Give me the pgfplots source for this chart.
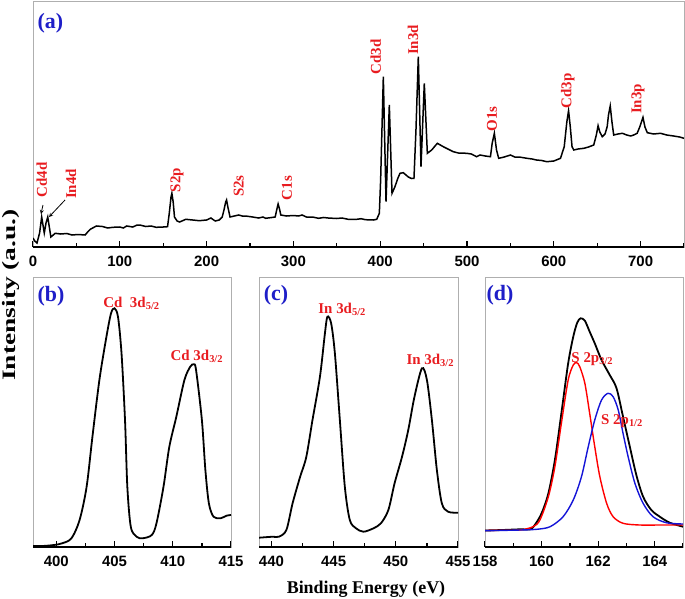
\documentclass[border=0pt]{standalone}
\usepackage{pgfplots}
\pgfplotsset{compat=1.18}
\usepackage{graphicx}
\usepackage{fontspec}
\setmainfont{Liberation Serif}
\setsansfont{Liberation Sans}
\definecolor{lblred}{RGB}{232,28,32}
\definecolor{lblblue}{RGB}{30,30,200}
\definecolor{frame}{RGB}{175,175,175}
\definecolor{fitblue}{RGB}{20,20,215}

\pgfplotsset{
  xps/.style={
    scale only axis, anchor=south west,
    axis line style={draw=frame, line width=0.8bp},
    ytick=\empty, xtick pos=left, tick align=inside,
    major tick length=6bp, minor tick length=4bp,
    every tick/.style={black, line width=1.3bp},
    ticklabel style={font=\sffamily\bfseries\fontsize{15}{15}\selectfont},
    xticklabel style={yshift=-6bp},
    /pgf/number format/assume math mode=true,
    /pgf/number format/1000 sep={},
    ymin=0,
  },
}
\tikzset{
  pk/.style={font=\bfseries\fontsize{15}{15}\selectfont, text=lblred, rotate=90},
  sub/.style={font=\bfseries\fontsize{15}{16}\selectfont, text=lblred, anchor=base west, inner sep=0pt},
  pan/.style={font=\bfseries\fontsize{22}{22}\selectfont, text=lblblue},
}

\begin{document}
\begin{tikzpicture}[x=1bp,y=1bp]
\useasboundingbox (0,0) rectangle (685,-599);

% (a) survey spectrum
\begin{axis}[xps, at={(33bp,-247bp)}, width=651bp, height=246bp,
  xmin=0, xmax=750, ymax=246,
  xtick={0,100,...,700}, minor xtick={50,150,...,750}]
\addplot[black, line width=1.5bp] coordinates {
(0,9) (2,6) (4.6,4) (7.6,14) (10,30) (11.5,22) (13,14) (15,24) (17,30) (18.8,20)
(20.6,10) (25.6,13.7) (32,13) (39,13.5) (45,12) (52,12.5) (60,12) (63,15) (66,17.7)
(73,21) (80,20.5) (86,19) (92,19.7) (100,20) (104,19) (108,21) (115,20) (120,22) (123,22)
(130,20.5) (136,21) (142,19.7) (150,20) (155,20.3) (157,33.7) (159,50) (160,53.7) (161.5,45)
(163,30) (166,26) (169,25) (176,27.7) (184,27) (191.6,26.3) (200,27) (205,29) (207,27.7)
(210,26) (214.5,27) (218,30) (220,37) (222,45) (223,47) (224.5,40) (227,30) (232,31)
(237,32) (241,31) (245,31) (253,30) (260,29) (265,30) (268,28.7) (275,29.5) (279,30)
(281,38) (282.4,43) (284,38) (285.5,32) (292,31) (300,31.5) (306,31) (310,32) (315,30)
(322,30) (329,28.7) (335,29.5) (340,29) (350,28.5) (356,29) (363,27.7) (373,27.7) (378,28.3)
(383,27.3) (392,27) (396,27.7) (399,33.7) (400.5,67) (403.6,170.3) (406.7,45.3) (410.5,142)
(413.6,53.7) (417,60.3) (420,68) (422.8,73.7) (426.6,74.3) (432.4,70) (436,68.5) (438.9,68.7)
(441.2,117) (443.9,190.3) (447,80.3) (450.8,163.7) (454.3,93.7) (459.3,97) (465.8,103.7)
(472.7,100.3) (478,98) (484.2,95.3) (490,94) (499.6,93.7) (505,93) (511,90.3) (515,92)
(521,91) (527,90.3) (529,103.7) (531.5,113.7) (534,97) (536.5,88.7) (543,90) (550,92)
(555,90) (560,90) (569,88.7) (575,88) (580,87) (586,86.5) (592,85.3) (600,86) (607.7,88.7)
(612,100.3) (615,125) (617,136.3) (619,120) (621,100.3) (623,97) (628,98) (634.6,98.7)
(640,100) (646,102) (649,112) (651,121.3) (653,115) (655.8,110.3) (659,113) (661.5,120.3)
(663,132) (665,141) (667,125) (669,112) (674,113) (679,113.7) (684,112) (688.5,111) (692,112)
(696,113.7) (699,120) (702.7,129.7) (705,120) (707.7,114.3) (715,113) (723,113.7) (730,112)
(738,111) (745,110) (750,108.7)};
\draw[black, line width=2bp] (rel axis cs:0,0) -- (rel axis cs:1,0);
\node[pan] at (axis cs:20,224) {(a)};
\node[pk] at (axis cs:10.2,67) {Cd4d};
\node[pk] at (axis cs:43.8,63) {In4d};
\node[pk] at (axis cs:166,67) {S2p};
\node[pk] at (axis cs:237,61) {S2s};
\node[pk] at (axis cs:292.6,59) {C1s};
\node[pk] at (axis cs:395,190) {Cd3d};
\node[pk] at (axis cs:437.8,207) {In3d};
\node[pk] at (axis cs:528.8,128) {O1s};
\node[pk] at (axis cs:616,156) {Cd3p};
\node[pk] at (axis cs:697,148) {In3p};
\draw[-stealth, black, line width=0.8bp] (axis cs:11.5,42) -- (axis cs:9.2,33);
\draw[-stealth, black, line width=0.8bp] (axis cs:36.9,47) -- (axis cs:18.4,30);
\end{axis}

% (b) Cd 3d
\begin{axis}[xps, at={(33bp,-547bp)}, width=198bp, height=270bp,
  xmin=398, xmax=415, ymax=270,
  xtick={400,405,410,415}, minor xtick={402.5,407.5,412.5}]
\addplot[black, line width=1.8bp, smooth] coordinates {
(398,1) (398.8,1) (399.8,2) (400.5,3.7) (401.3,8.7) (402,27) (402.6,60) (403.1,110)
(403.7,167) (404.3,210) (404.7,233.7) (405,238.7) (405.3,230) (405.6,193.7) (405.9,127)
(406.1,60) (406.4,20) (406.9,10.3) (407.4,8.7) (408.2,12) (408.6,23.7) (409.2,60)
(409.7,100) (410.3,130) (411,167) (411.5,180.3) (411.8,182.7) (412,177) (412.5,127)
(412.8,77) (413.1,43.7) (413.5,30.3) (414.1,28.7) (414.6,31.3) (415,32)};
\draw[black, line width=2bp] (rel axis cs:0,0) -- (rel axis cs:1,0);
\node[pan] at (axis cs:399.55,251) {(b)};
\node[sub] at (axis cs:404.03,240) {Cd\ \ 3d\textsubscript{5/2}};
\node[sub] at (axis cs:409.8,187) {Cd 3d\textsubscript{3/2}};
\end{axis}

% (c) In 3d
\begin{axis}[xps, at={(259bp,-547bp)}, width=199bp, height=270bp,
  xmin=439, xmax=455, ymax=270,
  xtick={440,445,450,455}, minor xtick={442.5,447.5,452.5}]
\addplot[black, line width=1.8bp, smooth] coordinates {
(439,9.3) (440.1,10.3) (440.6,10.3) (441.2,17) (441.7,43.7) (442.3,70) (442.8,90)
(443.3,127) (443.9,170.3) (444.3,213.7) (444.5,230.3) (444.8,223.7) (445.1,193.7)
(445.5,127) (445.9,60.3) (446.3,27) (446.8,18.7) (447.4,15.3) (448.2,18.7) (448.8,23.7)
(449.4,37) (449.9,63.7) (450.5,90.3) (451,117) (451.5,150.3) (452.1,178.7) (452.5,167)
(452.9,127) (453.3,77) (453.7,43.7) (454.2,35.3) (455,34.3)};
\draw[black, line width=2bp] (rel axis cs:0,0) -- (rel axis cs:1,0);
\node[pan] at (axis cs:440.37,252) {(c)};
\node[sub] at (axis cs:443.76,234) {In 3d\textsubscript{5/2}};
\node[sub] at (axis cs:450.85,183) {In 3d\textsubscript{3/2}};
\end{axis}

% (d) S 2p with fitted components
\begin{axis}[xps, at={(485bp,-547bp)}, width=198bp, height=270bp,
  xmin=158, xmax=165, ymax=270,
  xtick={158,160,162,164}, minor xtick={159,161,163,165}]
\addplot[black, line width=1.8bp, smooth] coordinates {
(158,16.5) (158.6,17) (159.24,17.7) (159.6,17.7) (159.76,22) (160,33.7) (160.24,53.7)
(160.47,87) (160.7,133.7) (160.94,183.7) (161.12,210.3) (161.26,224.3) (161.38,228.7)
(161.53,226.3) (161.7,215.3) (161.88,203.7) (162.12,187) (162.41,172) (162.65,158.7)
(162.88,130.3) (163.12,100.3) (163.35,72) (163.59,50.3) (163.88,37) (164.18,30.3)
(164.53,24.3) (165,20.3)};
\addplot[red, line width=1.4bp, smooth] coordinates {
(158,16.5) (158.6,16.8) (159.24,17) (159.7,20.3) (159.94,27) (160.24,50.3) (160.47,80.3)
(160.7,123.7) (160.94,167) (161.12,182) (161.24,184.3) (161.35,180.3) (161.53,163.7)
(161.7,133.7) (161.88,100.3) (162.06,70.3) (162.3,43.7) (162.53,30.3) (162.88,23.7)
(163.47,22) (164.2,22) (165,22)};
\addplot[fitblue, line width=1.4bp, smooth] coordinates {
(158,16.3) (158.6,16.6) (159.24,17) (159.82,17.7) (160.3,20.3) (160.76,30.3) (161.12,47)
(161.41,70.3) (161.65,100.3) (161.88,127) (162.12,147) (162.35,153.7) (162.53,150.3)
(162.71,137) (162.88,113.7) (163.06,90.3) (163.3,63.7) (163.59,43.7) (163.94,30.3)
(164.41,24.3) (165,23)};
\draw[black, line width=2bp] (rel axis cs:0,0) -- (rel axis cs:1,0);
\node[pan] at (axis cs:158.53,252) {(d)};
\node[sub] at (axis cs:161.05,185) {S 2p\textsubscript{3/2}};
\node[sub] at (axis cs:162.1,123) {S 2p\textsubscript{1/2}};
\end{axis}

\node[rotate=90, font=\bfseries\fontsize{19}{19}\selectfont] at (10.5,-295) {\scalebox{1.45}[1]{Intensity (a.u.)}};
\node[font=\bfseries\fontsize{18}{18}\selectfont] at (366,-589) {Binding Energy (eV)};
\end{tikzpicture}
\end{document}
